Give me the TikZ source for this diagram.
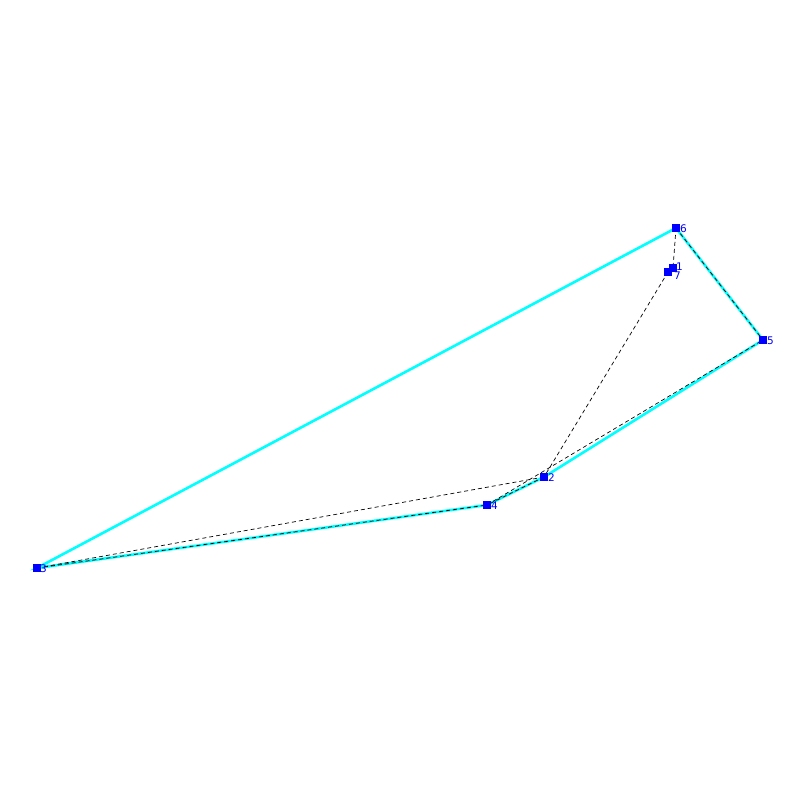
\documentclass[tikz,border=0pt]{standalone}
\usepackage{fontspec}
\setmainfont{DejaVu Sans}
\definecolor{hullcyan}{RGB}{0,255,255}
\definecolor{ptblue}{RGB}{0,0,255}
\begin{document}
\begin{tikzpicture}[x=1pt,y=-1pt,
  pt/.style={fill=ptblue,minimum size=7.5pt,inner sep=0pt,draw=none,rectangle},
  hull/.style={draw=hullcyan,line width=2.6pt},
  tri/.style={draw=black,line width=0.7pt,dash pattern=on 4pt off 3pt},
  lbl/.style={text=ptblue,font=\fontsize{10.5pt}{11pt}\selectfont,inner sep=0pt,anchor=west}]
\useasboundingbox (0,0) rectangle (800,800);
\coordinate (p1) at (673,268);
\coordinate (p2) at (544,477);
\coordinate (p3) at (37,568);
\coordinate (p4) at (487,505);
\coordinate (p5) at (763,340);
\coordinate (p6) at (676,228);
\coordinate (p7) at (668,272);
% hull
\draw[hull] (p3) -- (p6) -- (p5) -- (p2) -- (p4) -- cycle;
% dashed edges
\draw[tri] (p6) -- (p1);
\draw[tri] (p7) -- (p2);
\draw[tri] (p6) -- (p5);
\draw[tri] (p4) -- (p5);
\draw[tri] (p3) -- (p2);
\draw[tri] (p3) -- (p4);
\draw[tri] (p2) -- (p4);
% points
\node[pt] (n7) at (p7) {};
\node[pt] (n1) at (p1) {};
\node[pt] (n2) at (p2) {};
\node[pt] (n3) at (p3) {};
\node[pt] (n4) at (p4) {};
\node[pt] (n5) at (p5) {};
\node[pt] (n6) at (p6) {};
% labels
\node[lbl] (l1) at (676,266.5) {1};
\node[lbl] (l7) at (674,276) {7};
\node[lbl] (l2) at (548,477.5) {2};
\node[lbl] (l3) at (40,568.5) {3};
\node[lbl] (l4) at (491,505.5) {4};
\node[lbl] (l5) at (767,340.5) {5};
\node[lbl] (l6) at (680,228.5) {6};
\end{tikzpicture}
\end{document}
